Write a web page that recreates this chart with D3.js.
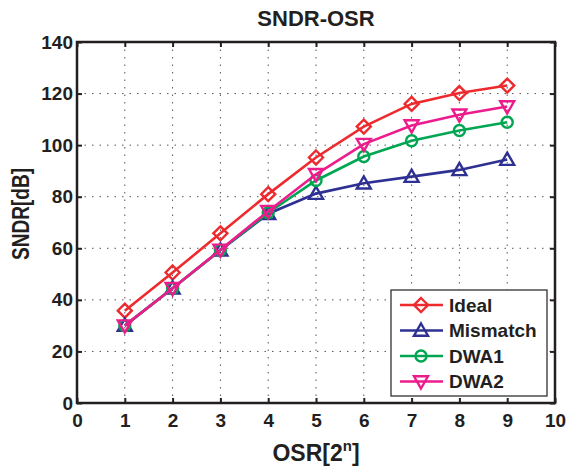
<!DOCTYPE html>
<html>
<head>
<meta charset="utf-8">
<script src="https://cdn.jsdelivr.net/npm/d3@7"></script>
<style>
body { margin: 0; background: #fff; }
text { font-family: "Liberation Sans", Arial, sans-serif; font-weight: bold; fill: #231f20; }
</style>
</head>
<body>
<div id="chart"></div>
<script>
// data
const osr = [1, 2, 3, 4, 5, 6, 7, 8, 9];
const ideal = [35.8, 50.6, 65.8, 81.0, 95.2, 107.2, 116.0, 120.2, 123.1];
const mismatch = [30.0, 44.5, 59.2, 73.4, 81.2, 85.2, 87.8, 90.4, 94.4];
const dwa1 = [30.0, 44.5, 59.3, 73.8, 86.3, 95.6, 101.7, 105.7, 108.9];
const dwa2 = [30.0, 44.5, 59.4, 74.4, 88.7, 100.4, 107.6, 111.8, 115.0];
const xTicks = [0, 1, 2, 3, 4, 5, 6, 7, 8, 9, 10];
const yTicks = [0, 20, 40, 60, 80, 100, 120, 140];

const series = [
  { name: "Ideal", values: ideal, color: "#ed2a2e", marker: "diamond" },
  { name: "Mismatch", values: mismatch, color: "#2e3192", marker: "triUp" },
  { name: "DWA1", values: dwa1, color: "#00a651", marker: "circle" },
  { name: "DWA2", values: dwa2, color: "#ec1c8c", marker: "triDown" }
];

const W = 566, H = 468;
const margin = { top: 42, right: 11, bottom: 65, left: 77 };
const width = W - margin.left - margin.right,
      height = H - margin.top - margin.bottom;

const svg = d3.select("#chart").append("svg")
  .attr("width", W).attr("height", H);
const g = svg.append("g").attr("transform", `translate(${margin.left},${margin.top})`);

const x = d3.scaleLinear().domain([0, 10]).range([0, width]);
const y = d3.scaleLinear().domain([0, 140]).range([height, 0]);

// grid
g.selectAll(".vgrid").data(xTicks.slice(1, -1)).enter().append("line")
  .attr("x1", d => x(d)).attr("x2", d => x(d)).attr("y1", 0).attr("y2", height)
  .attr("stroke", "#555").attr("stroke-width", 1).attr("stroke-dasharray", "1.5,6");
g.selectAll(".hgrid").data(yTicks.slice(1, -1)).enter().append("line")
  .attr("y1", d => y(d)).attr("y2", d => y(d)).attr("x1", 0).attr("x2", width)
  .attr("stroke", "#555").attr("stroke-width", 1).attr("stroke-dasharray", "1.5,6");

// axes (ticks inward)
const xAxis = g.append("g").attr("transform", `translate(0,${height})`)
  .call(d3.axisBottom(x).tickValues(xTicks).tickSize(-5).tickPadding(11).tickFormat(d3.format("d")));
const xTop = g.append("g").call(d3.axisTop(x).tickValues(xTicks).tickSize(-5).tickFormat(""));
const yAxis = g.append("g")
  .call(d3.axisLeft(y).tickValues(yTicks).tickSize(-5).tickPadding(4));
const yRight = g.append("g").attr("transform", `translate(${width},0)`)
  .call(d3.axisRight(y).tickValues(yTicks).tickSize(-5).tickFormat(""));
[xAxis, xTop, yAxis, yRight].forEach(a => {
  a.select(".domain").remove();
  a.selectAll("line").attr("stroke", "#231f20").attr("stroke-width", 2);
  a.selectAll("text").style("font-size", "19px").attr("fill", "#231f20");
});

g.append("rect").attr("width", width).attr("height", height)
  .attr("fill", "none").attr("stroke", "#231f20").attr("stroke-width", 2.5);

// markers
function marker(sel, type, color) {
  const s = 7;
  if (type === "circle") {
    sel.append("circle").attr("r", 5.5);
  } else {
    let pts;
    if (type === "diamond") pts = [[0, -s], [s, 0], [0, s], [-s, 0]];
    if (type === "triUp") pts = [[0, -s], [s, s * 0.75], [-s, s * 0.75]];
    if (type === "triDown") pts = [[0, s], [s, -s * 0.75], [-s, -s * 0.75]];
    sel.append("path").attr("d", "M" + pts.join("L") + "Z");
  }
  sel.selectAll("*").attr("fill", "none").attr("stroke", color).attr("stroke-width", 2.4);
}

const line = d3.line().x((d, i) => x(osr[i])).y(d => y(d));

series.forEach(s => {
  g.append("path").datum(s.values)
    .attr("fill", "none").attr("stroke", s.color).attr("stroke-width", 2.6)
    .attr("d", line);
  g.selectAll(".m-" + s.name).data(s.values).enter().append("g")
    .attr("transform", (d, i) => `translate(${x(osr[i])},${y(d)})`)
    .each(function () { marker(d3.select(this), s.marker, s.color); });
});

// legend
const lg = svg.append("g").attr("transform", "translate(391,290)");
lg.append("rect").attr("width", 156).attr("height", 106)
  .attr("fill", "#fff").attr("stroke", "#231f20").attr("stroke-width", 1.2);
series.forEach((s, i) => {
  const row = lg.append("g").attr("transform", `translate(0,${15 + i * 25.5})`);
  row.append("line").attr("x1", 9).attr("x2", 52).attr("y1", 0).attr("y2", 0)
    .attr("stroke", s.color).attr("stroke-width", 2.6);
  const m = row.append("g").attr("transform", "translate(30,0)");
  marker(m, s.marker, s.color);
  row.append("text").attr("x", 58).attr("y", 0).attr("dy", "0.36em")
    .style("font-size", "19px").text(s.name);
});

// titles
svg.append("text").attr("x", 316).attr("y", 26)
  .attr("text-anchor", "middle").style("font-size", "22px").text("SNDR-OSR");

const xl = svg.append("text").attr("x", 316).attr("y", 461)
  .attr("text-anchor", "middle").style("font-size", "23px");
xl.append("tspan").text("OSR[2");
xl.append("tspan").attr("dy", -10).style("font-size", "15px").text("n");
xl.append("tspan").attr("dy", 10).text("]");

svg.append("text")
  .attr("transform", `translate(29,214) rotate(-90)`)
  .attr("text-anchor", "middle").style("font-size", "23px")
  .attr("textLength", 92).attr("lengthAdjust", "spacingAndGlyphs")
  .text("SNDR[dB]");
</script>
</body>
</html>
